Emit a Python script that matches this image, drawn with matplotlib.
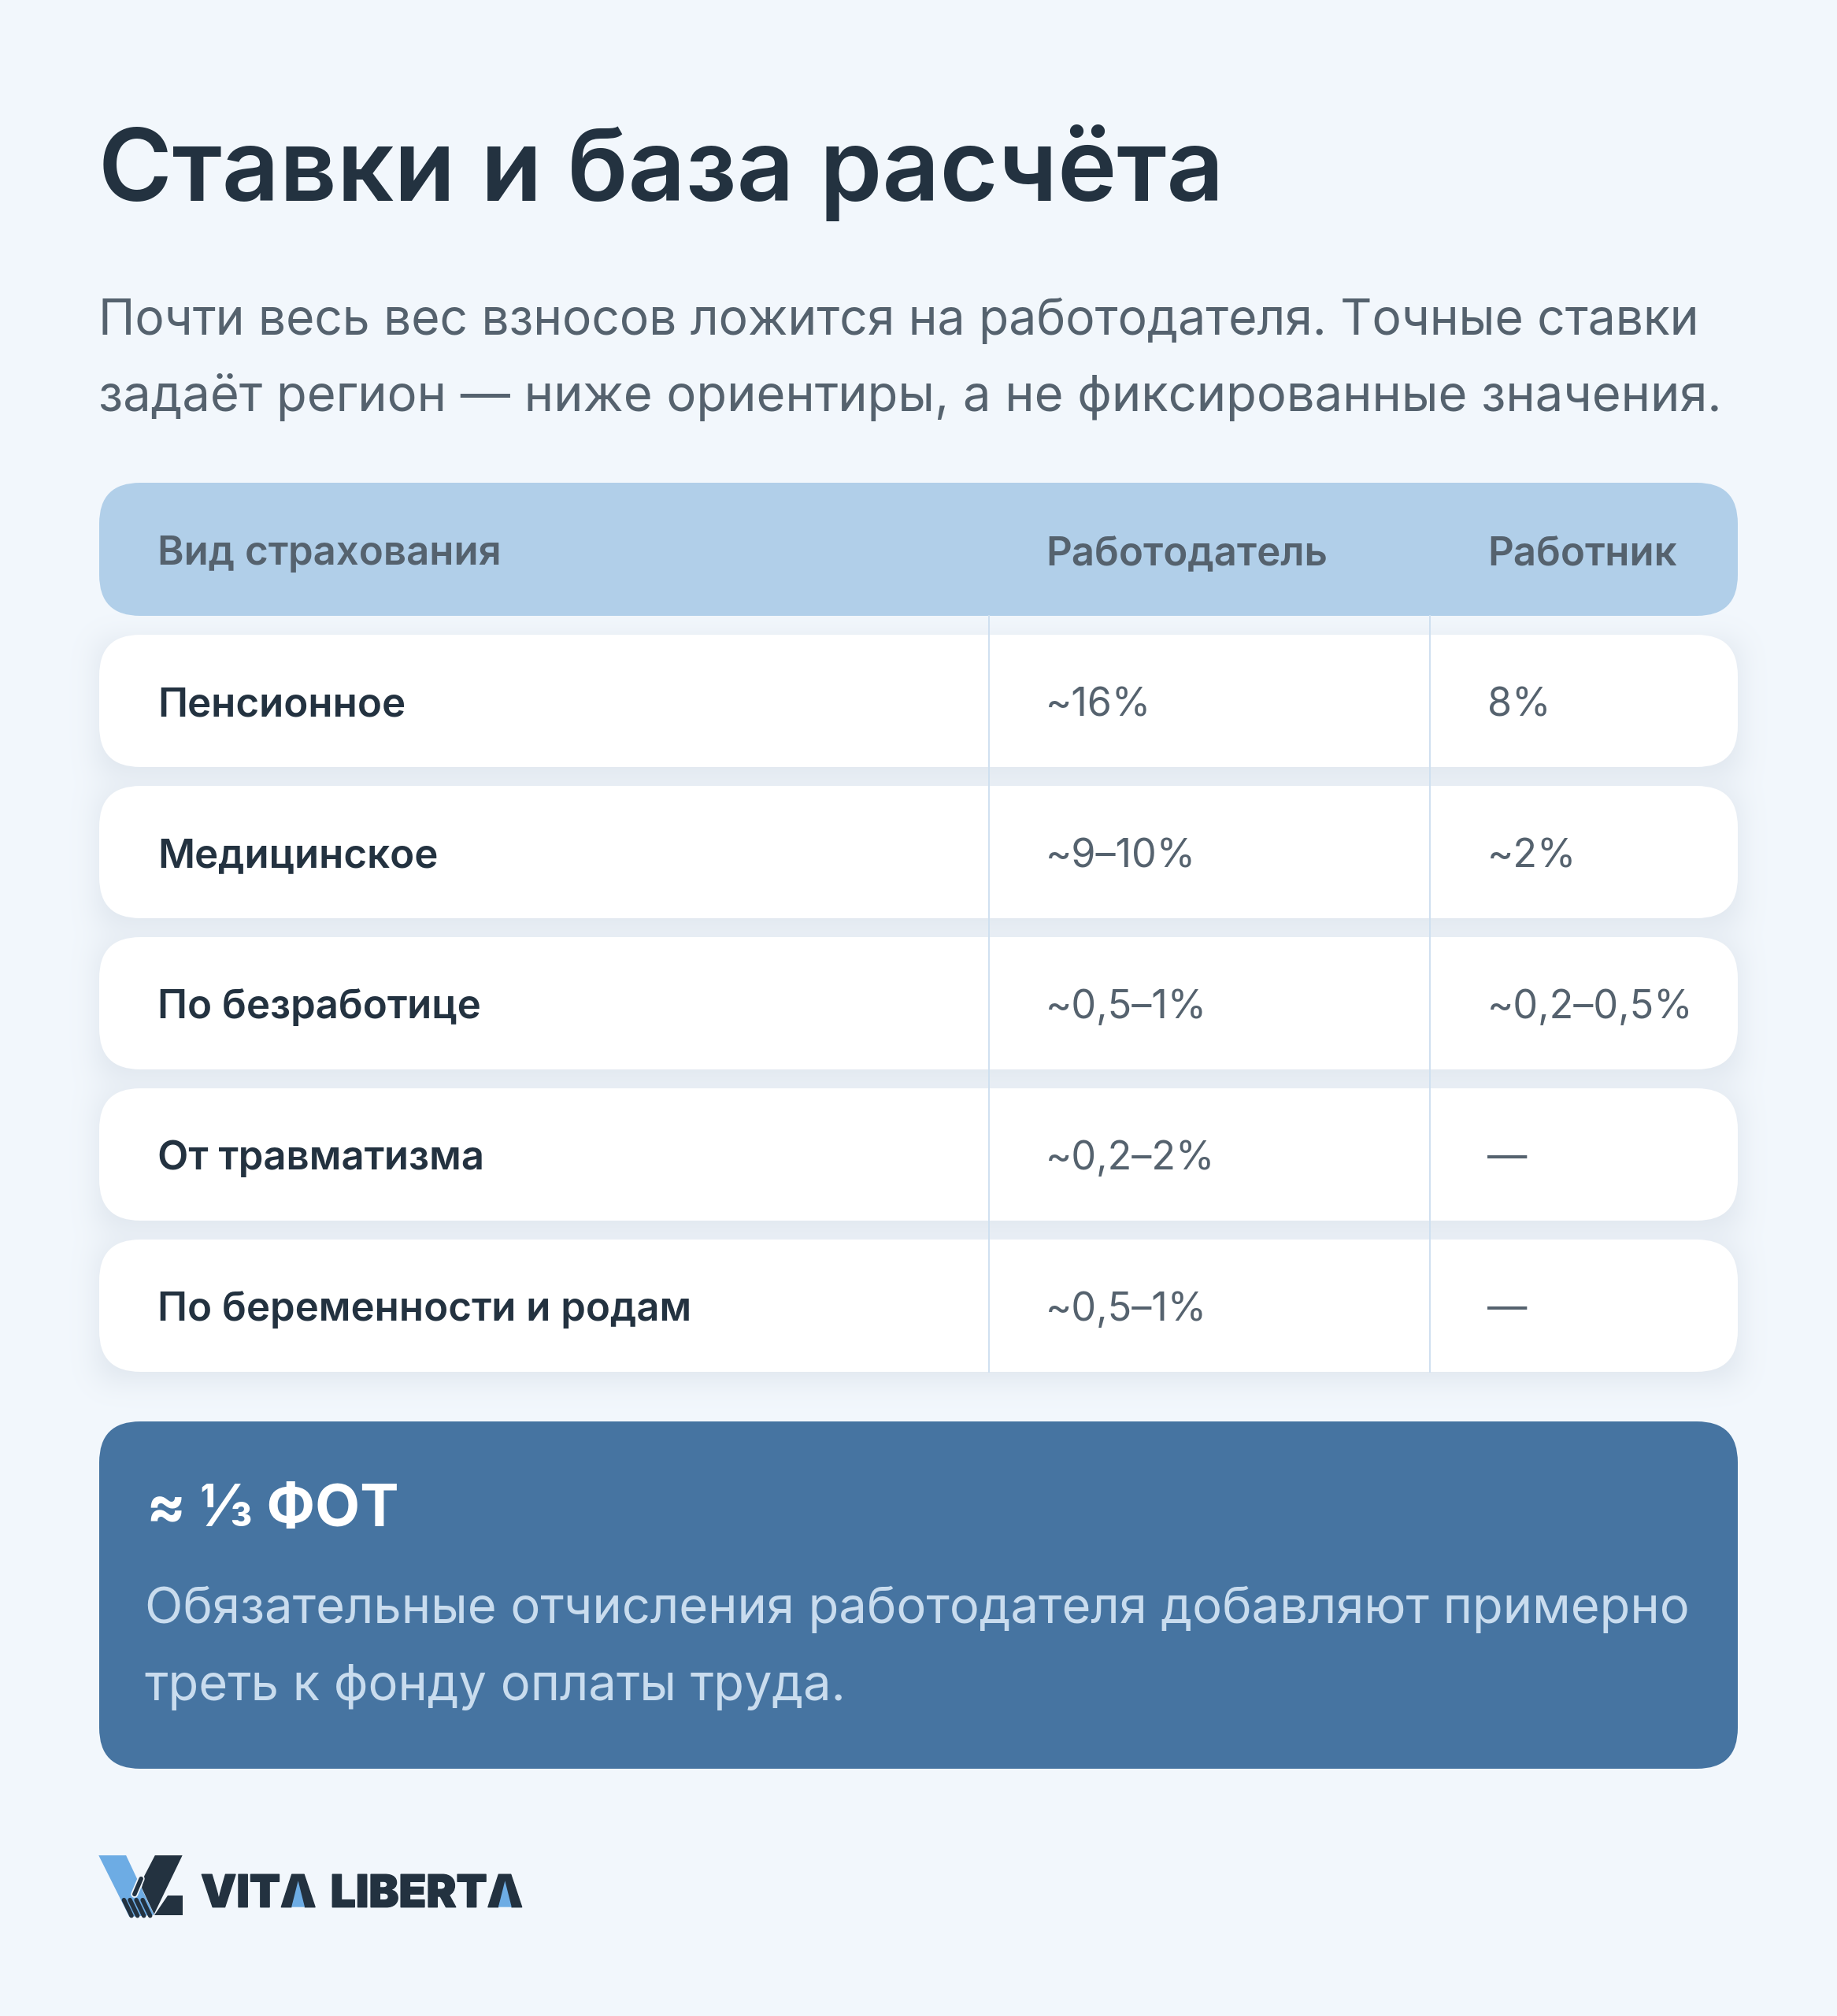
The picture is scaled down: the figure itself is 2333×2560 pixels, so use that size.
#!/usr/bin/env python3

import math
import matplotlib
matplotlib.use("Agg")
import matplotlib.patheffects as pe
import matplotlib.pyplot as plt
import numpy as np
from matplotlib.patches import FancyBboxPatch, Polygon

WIDTH = 2333
HEIGHT = 2560

title = "Ставки и база расчёта"
subtitle = ["Почти весь вес взносов ложится на работодателя. Точные ставки",
            "задаёт регион — ниже ориентиры, а не фиксированные значения."]
headers = ["Вид страхования", "Работодатель", "Работник"]
kinds = ["Пенсионное", "Медицинское", "По безработице", "От травматизма", "По беременности и родам"]
employer = ["~16%", "~9–10%", "~0,5–1%", "~0,2–2%", "~0,5–1%"]
employee = ["8%", "~2%", "~0,2–0,5%", "—", "—"]
note_title = "≈ ⅓ ФОТ"
note_text = ["Обязательные отчисления работодателя добавляют примерно",
             "треть к фонду оплаты труда."]

BG = (242, 247, 252)
BG_HEX = "#F2F7FC"
DARK = "#233240"
GREY = "#55626E"
HEAD = "#B1CFE9"
NOTE = "#4674A1"
NOTE_TEXT = "#C9DCEE"
BLUE = "#6DACE4"
LINE = "#CFE0F0"

LEFT = 126
RIGHT = 2207
COL1 = 200
COL2 = 1328
COL3 = 1889

ROW_H = 168
ROW_STEP = 192
ROW_TOP = 806

plt.rcParams['font.family'] = ['Inter', 'DejaVu Sans']

fig = plt.figure(figsize=(WIDTH/100, HEIGHT/100), dpi=100, facecolor=BG_HEX)
ax = fig.add_axes([0, 0, 1, 1])


def px(size):
    return size*72/100


def card(x0, y0, x1, y1, color, radius=52, z=2):
    p = FancyBboxPatch((x0, y0), x1 - x0, y1 - y0,
                       boxstyle="round,pad=0,rounding_size=%f" % radius,
                       fc=color, ec="none", zorder=z)
    ax.add_patch(p)


def label(x, y, s, size, color, weight="normal"):
    return ax.text(x, y, s, fontsize=px(size), color=color, weight=weight,
                   ha="left", va="baseline", zorder=5)


def logo(zx, zy):
    # positions
    return 100 + zx/2.613, 2320 + zy/3


phi = np.vectorize(lambda v: 0.5*(1 + math.erf(v/math.sqrt(2))))

# soft shadow under the rows, painted into the background
SIGMA = 19.0
OFFSET = 9
PEAK = 0.10
xs = np.arange(WIDTH) + 0.5
ys = np.arange(HEIGHT) + 0.5
sx = phi((xs - LEFT)/SIGMA) - phi((xs - RIGHT)/SIGMA)
alpha = np.zeros((HEIGHT, WIDTH))
for i in range(len(kinds)):
    top = ROW_TOP + i*ROW_STEP + OFFSET
    sy = phi((ys - top)/SIGMA) - phi((ys - top - ROW_H)/SIGMA)
    alpha += np.outer(sy, sx)*PEAK
back = np.zeros((HEIGHT, WIDTH, 3))
for c in range(3):
    back[:, :, c] = BG[c]*(1 - alpha) + (31, 58, 95)[c]*alpha
ax.imshow(back.round().astype(np.uint8), extent=(0, WIDTH, HEIGHT, 0), aspect="auto", zorder=0,
          interpolation="nearest")

ax.set_xlim(0, WIDTH)
ax.set_ylim(HEIGHT, 0)
ax.axis("off")

label(125, 255, title, 127.3, DARK, "semibold")
label(125, 425, subtitle[0], 62.3, GREY)
label(125, 522, subtitle[1], 63.2, GREY)

# table
card(LEFT, 613, RIGHT, 782, HEAD)
for i in range(len(kinds)):
    top = ROW_TOP + i*ROW_STEP
    card(LEFT, top, RIGHT, top + ROW_H, "white")

for x in [1255.5, 1816]:
    ax.plot([x, x], [782, ROW_TOP + 4*ROW_STEP + ROW_H], color=LINE, lw=1.4, zorder=3)

for x, s in zip([COL1, COL2, COL3], headers):
    label(x, 717, s, 51, GREY, "semibold")

for i in range(len(kinds)):
    base = ROW_TOP + i*ROW_STEP + 103
    label(COL1, base, kinds[i], 51, DARK, "semibold")
    label(COL2, base, employer[i], 50.3, GREY)
    label(COL3, base, employee[i], 50.3, GREY)

# note
card(LEFT, 1805, RIGHT, 2246, NOTE)
label(186, 1938, note_title, 74, "white", "bold")
label(184, 2061, note_text[0], 63.2, NOTE_TEXT)
label(184, 2159, note_text[1], 63.2, NOTE_TEXT)

# logo mark
ax.add_patch(Polygon([logo(66, 108), logo(157, 108), logo(250, 335), logo(168, 342)],
                     fc=BLUE, ec="none", zorder=3))
ax.add_patch(Polygon([logo(253, 108), logo(344, 108), logo(250, 332), logo(209, 232), logo(216, 190)],
                     fc=DARK, ec="none", zorder=4))
ax.add_patch(Polygon([logo(296, 262), logo(344, 262), logo(344, 336), logo(250, 336)],
                     fc=DARK, ec="none", zorder=4))
for zx in [150, 170, 191, 212]:
    a = logo(zx, 278)
    b = logo(zx + 25, 338)
    ax.plot([a[0], b[0]], [a[1], b[1]], color=DARK, lw=4, solid_capstyle="round", zorder=4)
a = logo(207, 197)
b = logo(185, 256)
ax.plot([a[0], b[0]], [a[1], b[1]], color=BG_HEX, lw=6.5, solid_capstyle="round", zorder=4.5)
ax.plot([a[0], b[0]], [a[1], b[1]], color=DARK, lw=4, solid_capstyle="round", zorder=4.6)

# logo words, blue fills the counter of each A
for x, s in [(255, "VITA"), (419.6, "LIBERTA")]:
    t = label(x, 2421.7, s, 57, DARK, "black")
    t.set_path_effects([pe.withStroke(linewidth=1.0, foreground=DARK)])
for apex, half in [(728, 22), (1414.5, 22)]:
    ax.add_patch(Polygon([logo(apex, 205), logo(apex + half, 305), logo(apex - half, 305)],
                         fc=BLUE, ec="none", zorder=6))

fig.savefig("out.png", dpi=100, facecolor=BG_HEX)
